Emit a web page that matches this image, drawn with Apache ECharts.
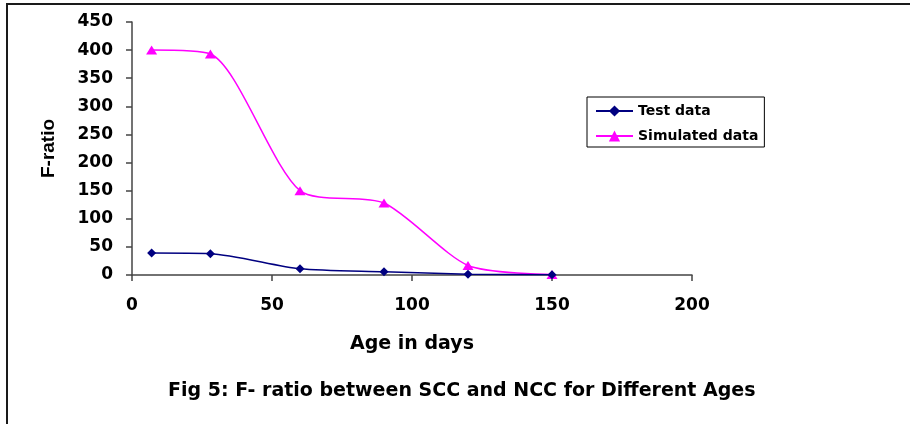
<!DOCTYPE html>
<html>
<head>
<meta charset="utf-8">
<script src="https://cdn.jsdelivr.net/npm/echarts@6/dist/echarts.min.js"></script>
<style>
html,body{margin:0;padding:0;background:#fff;}
#chart{width:910px;height:424px;}
</style>
</head>
<body>
<div id="chart"></div>
<script>
var ages = [7, 28, 60, 90, 120, 150];
var testData = [39, 38, 11, 6, 1.5, 0.5];
var simulatedData = [400, 393, 150, 128, 17, 1];
var seriesNames = ['Test data', 'Simulated data'];
var xTitle = 'Age in days';
var yTitle = 'F-ratio';
var figTitle = 'Fig 5: F- ratio between SCC and NCC for Different Ages';

function pairs(xs, ys) { return xs.map(function (x, i) { return [x, ys[i]]; }); }

var chart = echarts.init(document.getElementById('chart'), null, {renderer: 'canvas'});
var axisTextBold = {color: '#000', fontFamily: 'DejaVu Sans', fontWeight: 'bold', fontSize: 17};
chart.setOption({
  backgroundColor: '#fff',
  animation: false,
  title: {
    text: figTitle,
    left: 168, top: 382, padding: 0,
    textStyle: {color: '#000', fontFamily: 'DejaVu Sans', fontWeight: 'bold', fontSize: 19}
  },
  graphic: [{
    type: 'rect', silent: true,
    shape: {x: 7, y: 4, width: 1000, height: 1000},
    style: {fill: 'none', stroke: '#1a1a1a', lineWidth: 2}
  }],
  legend: {
    orient: 'vertical',
    left: 587, top: 97,
    padding: [7, 6, 4, 8],
    itemWidth: 37, itemHeight: 14, itemGap: 11,
    borderColor: '#000', borderWidth: 1,
    textStyle: {color: '#000', fontFamily: 'DejaVu Sans', fontWeight: 'bold', fontSize: 14},
    data: seriesNames
  },
  grid: {left: 132, top: 22, width: 560, height: 253, containLabel: false},
  xAxis: {
    type: 'value', min: 0, max: 200, interval: 50,
    name: xTitle, nameLocation: 'middle', nameGap: 60,
    nameTextStyle: {color: '#000', fontFamily: 'DejaVu Sans', fontWeight: 'bold', fontSize: 19},
    axisLine: {show: true, lineStyle: {color: '#444', width: 1.5}},
    axisTick: {show: true, inside: false, length: 6, lineStyle: {color: '#444', width: 1.5}},
    axisLabel: Object.assign({margin: 22}, axisTextBold),
    splitLine: {show: false}
  },
  yAxis: {
    type: 'value', min: 0, max: 450, interval: 50,
    name: yTitle, nameLocation: 'middle', nameGap: 74, nameRotate: 90,
    nameTextStyle: {color: '#000', fontFamily: 'Liberation Sans', fontWeight: 'bold', fontSize: 19},
    axisLine: {show: true, lineStyle: {color: '#444', width: 1.5}},
    axisTick: {show: true, inside: false, length: 6, lineStyle: {color: '#444', width: 1.5}},
    axisLabel: Object.assign({margin: 19}, axisTextBold),
    splitLine: {show: false}
  },
  series: [{
    name: seriesNames[0], type: 'line', smooth: 0.25,
    data: pairs(ages, testData),
    symbol: 'diamond', symbolSize: 9,
    lineStyle: {color: '#000080', width: 1.5},
    itemStyle: {color: '#000080'},
    z: 3
  }, {
    name: seriesNames[1], type: 'line', smooth: 0.25,
    data: pairs(ages, simulatedData),
    symbol: 'triangle', symbolSize: [11, 9],
    lineStyle: {color: '#FF00FF', width: 1.5},
    itemStyle: {color: '#FF00FF'},
    z: 2
  }]
});
</script>
</body>
</html>
